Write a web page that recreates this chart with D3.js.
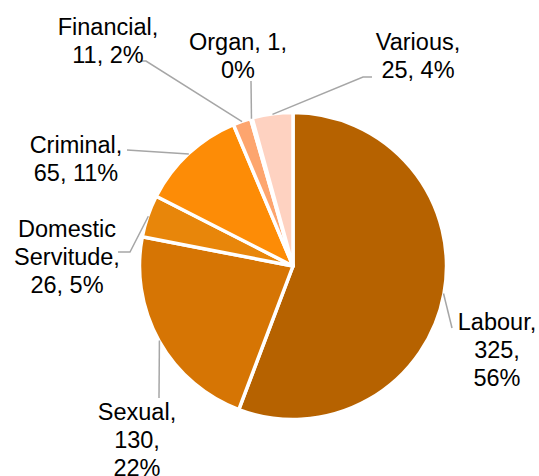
<!DOCTYPE html>
<html>
<head>
<meta charset="utf-8">
<script src="https://cdn.jsdelivr.net/npm/d3@7"></script>
<style>
	body { margin: 0; background: #fff; }
	text { font-family: "Liberation Sans", Arial, sans-serif; fill: #000; }
</style>
</head>
<body>
<svg id="chart" width="539" height="476"></svg>
<script>
var categories = ["Labour", "Sexual", "Domestic Servitude", "Criminal", "Financial", "Organ", "Various"];
var values = [325, 130, 26, 65, 11, 1, 25];
var colors = ["#b66200", "#d67504", "#e8860a", "#fd8c06", "#fda56e", "#fdbc96", "#fed2c1"];

// label text lines, {v} = value, {p} = percent
var labelLines = [
	["Labour,", "{v},", "{p}"],
	["Sexual,", "{v},", "{p}"],
	["Domestic", "Servitude,", "{v}, {p}"],
	["Criminal,", "{v}, {p}"],
	["Financial,", "{v}, {p}"],
	["Organ, {v},", "{p}"],
	["Various,", "{v}, {p}"]
];

// layout: label centre x, first baseline y, leader end points
var labelPos = [
	{x: 497, y: 330, pts: [[452, 328]]},
	{x: 137, y: 420, pts: [[159, 398]]},
	{x: 67, y: 237, pts: [[130, 252], [118, 252]]},
	{x: 76, y: 153, pts: [[127, 150]]},
	{x: 108, y: 35, pts: [[146, 61], [140, 61]]},
	{x: 238, y: 50, pts: [[251, 81]]},
	{x: 418, y: 50, pts: [[363, 77], [372, 77]]}
];

var cx = 293, cy = 266, radius = 153.5;
var lineH = 28;

var svg = d3.select("#chart");

var total = d3.sum(values);

// percentages rounded so they add to 100 (largest remainder)
var raw = values.map(function(v){ return v / total * 100; });
var pct = raw.map(Math.floor);
var left = 100 - d3.sum(pct);
var order = d3.range(raw.length).sort(function(a, b){ return (raw[b] - pct[b]) - (raw[a] - pct[a]); });
for (var i = 0; i < left; i++) pct[order[i]] += 1;

var pie = d3.pie().sort(null).value(function(d){ return d; });
var arcs = pie(values);

var arc = d3.arc().innerRadius(0).outerRadius(radius);

var g = svg.append("g").attr("transform", "translate(" + cx + "," + cy + ")");

g.selectAll("path.slice")
	.data(arcs)
	.enter().append("path")
		.attr("class", "slice")
		.attr("d", arc)
		.attr("fill", function(d, i){ return colors[i]; })
		.attr("stroke", "#fff")
		.attr("stroke-width", 3.5)
		.attr("stroke-linejoin", "round");

// leader lines
arcs.forEach(function(d, i){
	var mid = (d.startAngle + d.endAngle) / 2;
	var sx = cx + (radius - 0.5) * Math.sin(mid),
		sy = cy - (radius - 0.5) * Math.cos(mid);
	var pts = [[sx, sy]].concat(labelPos[i].pts);
	svg.append("path")
		.attr("d", d3.line()(pts))
		.attr("fill", "none")
		.attr("stroke", "#a6a6a6")
		.attr("stroke-width", 1.5);
});

// labels
labelLines.forEach(function(lines, i){
	var t = svg.append("text")
		.attr("text-anchor", "middle")
		.attr("font-size", "23.5px");
	lines.forEach(function(l, j){
		t.append("tspan")
			.attr("x", labelPos[i].x)
			.attr("y", labelPos[i].y + j * lineH)
			.text(l.replace("{v}", values[i]).replace("{p}", pct[i] + "%"));
	});
});
</script>
</body>
</html>
